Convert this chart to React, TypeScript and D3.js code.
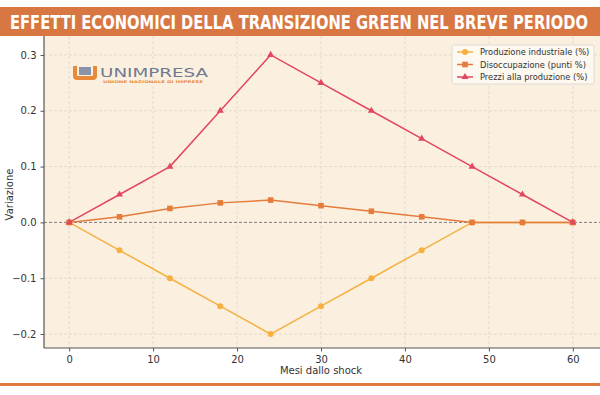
import * as d3 from "d3";
import { useEffect, useRef } from "react";

const months = [0, 6, 12, 18, 24, 30, 36, 42, 48, 54, 60];
const produzione = [0, -0.05, -0.1, -0.15, -0.2, -0.15, -0.1, -0.05, 0, 0, 0];
const disoccupazione = [0, 0.01, 0.025, 0.035, 0.04, 0.03, 0.02, 0.01, 0, 0, 0];
const prezzi = [0, 0.05, 0.1, 0.2, 0.3, 0.25, 0.2, 0.15, 0.1, 0.05, 0];
const xTicks = [0, 10, 20, 30, 40, 50, 60];
const yTicks = [-0.2, -0.1, 0.0, 0.1, 0.2, 0.3];
const seriesNames = [
  "Produzione industriale (%)",
  "Disoccupazione (punti %)",
  "Prezzi alla produzione (%)",
];

const App = () => {
  const svgRef = useRef<SVGSVGElement | null>(null);

  useEffect(() => {
    if (!svgRef.current) return;
    const svg = d3.select(svgRef.current);
    svg.selectAll("*").remove();

    const width = 600;
    const height = 395;
    const font = "DejaVu Sans, sans-serif";
    const margin = { top: 41, right: 2, bottom: 47, left: 44 };

    svg.attr("width", width).attr("height", height);
    svg.append("rect").attr("width", width).attr("height", height).attr("fill", "#ffffff");

    const x = d3.scaleLinear().domain([-3, 63]).range([margin.left, width - margin.right]);
    const y = d3.scaleLinear().domain([-0.225, 0.325]).range([height - margin.bottom, margin.top]);

    // plot background
    svg
      .append("rect")
      .attr("x", margin.left)
      .attr("y", margin.top - 5)
      .attr("width", width - margin.left)
      .attr("height", height - margin.bottom - margin.top + 5)
      .attr("fill", "#fbf0df");

    // grid
    const grid = svg.append("g").attr("stroke", "#dcd6cc").attr("stroke-width", 0.8).attr("stroke-dasharray", "3,2");
    xTicks.forEach((t) => {
      grid.append("line").attr("x1", x(t)).attr("x2", x(t)).attr("y1", margin.top - 5).attr("y2", height - margin.bottom);
    });
    yTicks.forEach((t) => {
      grid.append("line").attr("x1", margin.left).attr("x2", width).attr("y1", y(t)).attr("y2", y(t));
    });

    // zero line
    svg
      .append("line")
      .attr("x1", margin.left)
      .attr("x2", width)
      .attr("y1", y(0))
      .attr("y2", y(0))
      .attr("stroke", "#777")
      .attr("stroke-width", 0.9)
      .attr("stroke-dasharray", "3,2");

    // logo
    const logo = svg.append("g").attr("transform", "translate(73,66)");
    logo.append("path").attr("d", "M0,0 V10 Q0,14 4,14 H20 Q24,14 24,10 V0 H20 V9 Q20,10 19,10 H5 Q4,10 4,9 V0 Z").attr("fill", "#e88a3a");
    logo.append("rect").attr("x", 6).attr("y", 1).attr("width", 12).attr("height", 8).attr("fill", "#8a93a8");
    logo.append("text").attr("x", 27).attr("y", 11).attr("font-family", font).attr("font-size", 13).attr("fill", "#6f7a90").attr("textLength", 108).attr("lengthAdjust", "spacingAndGlyphs").text("UNIMPRESA");
    logo.append("text").attr("x", 30).attr("y", 16.5).attr("font-family", font).attr("font-size", 3.6).attr("font-weight", "bold").attr("fill", "#e88a3a").attr("textLength", 100).attr("lengthAdjust", "spacingAndGlyphs").text("UNIONE NAZIONALE DI IMPRESE");

    // lines
    const series = [
      { name: seriesNames[0], values: produzione, color: "#f5b041", marker: "circle" },
      { name: seriesNames[1], values: disoccupazione, color: "#e67c3c", marker: "square" },
      { name: seriesNames[2], values: prezzi, color: "#e2475f", marker: "triangle" },
    ];
    const line = d3.line<number>().x((_, i) => x(months[i])).y((d) => y(d));

    const drawMarker = (g: any, type: string, cx: number, cy: number, color: string) => {
      if (type === "circle") {
        g.append("circle").attr("cx", cx).attr("cy", cy).attr("r", 3).attr("fill", color);
      } else if (type === "square") {
        g.append("rect").attr("x", cx - 2.8).attr("y", cy - 2.8).attr("width", 5.6).attr("height", 5.6).attr("fill", color);
      } else {
        g.append("path").attr("d", d3.symbol(d3.symbolTriangle, 22)()).attr("transform", `translate(${cx},${cy})`).attr("fill", color);
      }
    };

    series.forEach((s) => {
      svg.append("path").datum(s.values).attr("d", line).attr("fill", "none").attr("stroke", s.color).attr("stroke-width", 1.5);
      const g = svg.append("g");
      s.values.forEach((v, i) => drawMarker(g, s.marker, x(months[i]), y(v), s.color));
    });

    // axes
    const xAxis = svg
      .append("g")
      .attr("transform", `translate(0,${height - margin.bottom})`)
      .call(d3.axisBottom(x).tickValues(xTicks).tickSize(3.5).tickSizeOuter(0).tickPadding(4));
    const yAxis = svg
      .append("g")
      .attr("transform", `translate(${margin.left},0)`)
      .call(
        d3
          .axisLeft(y)
          .tickValues(yTicks)
          .tickSize(3.5)
          .tickSizeOuter(0)
          .tickPadding(4)
          .tickFormat((d) => d3.format(".1f")(d as number).replace("-", "\u2212"))
      );
    [xAxis, yAxis].forEach((a) => {
      a.selectAll("text").attr("font-family", font).attr("font-size", 10).attr("fill", "#333");
      a.selectAll("line").attr("stroke", "#555");
      a.select(".domain").attr("stroke", "#555").attr("stroke-width", 1.2);
    });
    xAxis.select(".domain").attr("d", `M${margin.left},0H${width}`);
    yAxis.select(".domain").attr("d", `M0,${margin.top - 5}V${height - margin.bottom}`);

    svg
      .append("text")
      .attr("x", x(30))
      .attr("y", 374)
      .attr("text-anchor", "middle")
      .attr("font-family", font)
      .attr("font-size", 10)
      .attr("fill", "#333")
      .text("Mesi dallo shock");
    svg
      .append("text")
      .attr("transform", `translate(13,${y(0.05)}) rotate(-90)`)
      .attr("text-anchor", "middle")
      .attr("font-family", font)
      .attr("font-size", 10)
      .attr("fill", "#333")
      .text("Variazione");

    // legend
    const lg = svg.append("g").attr("transform", "translate(452,45)");
    lg.append("rect").attr("width", 142).attr("height", 39).attr("rx", 2).attr("fill", "#fdf8f0").attr("stroke", "#d8d4ce").attr("stroke-width", 0.8);
    series.forEach((s, i) => {
      const ly = 7 + i * 12.5;
      lg.append("line").attr("x1", 5).attr("x2", 21).attr("y1", ly).attr("y2", ly).attr("stroke", s.color).attr("stroke-width", 1.5);
      drawMarker(lg, s.marker, 13, ly, s.color);
      lg.append("text").attr("x", 28).attr("y", ly + 3).attr("font-family", font).attr("font-size", 8.3).attr("fill", "#333").text(s.name);
    });

    // banner
    svg.append("rect").attr("x", 0).attr("y", 7).attr("width", width).attr("height", 29).attr("fill", "#d97742");
    svg
      .append("text")
      .attr("transform", "translate(10,28.5) scale(1,1.2)")
      .attr("font-family", "DejaVu Sans Condensed, Liberation Sans, sans-serif")
      .attr("font-stretch", "condensed")
      .attr("font-weight", "bold")
      .attr("font-size", 15.5)
      .attr("fill", "#ffffff")
      .attr("textLength", 578)
      .attr("lengthAdjust", "spacingAndGlyphs")
      .text("EFFETTI ECONOMICI DELLA TRANSIZIONE GREEN NEL BREVE PERIODO");

    // bottom line
    svg.append("rect").attr("x", 0).attr("y", 383).attr("width", width).attr("height", 3).attr("fill", "#e07a3c");
  }, []);

  return (
    <div style={{ position: "absolute", left: 0, top: 0 }}>
      <svg ref={svgRef}></svg>
    </div>
  );
};

export default App;
